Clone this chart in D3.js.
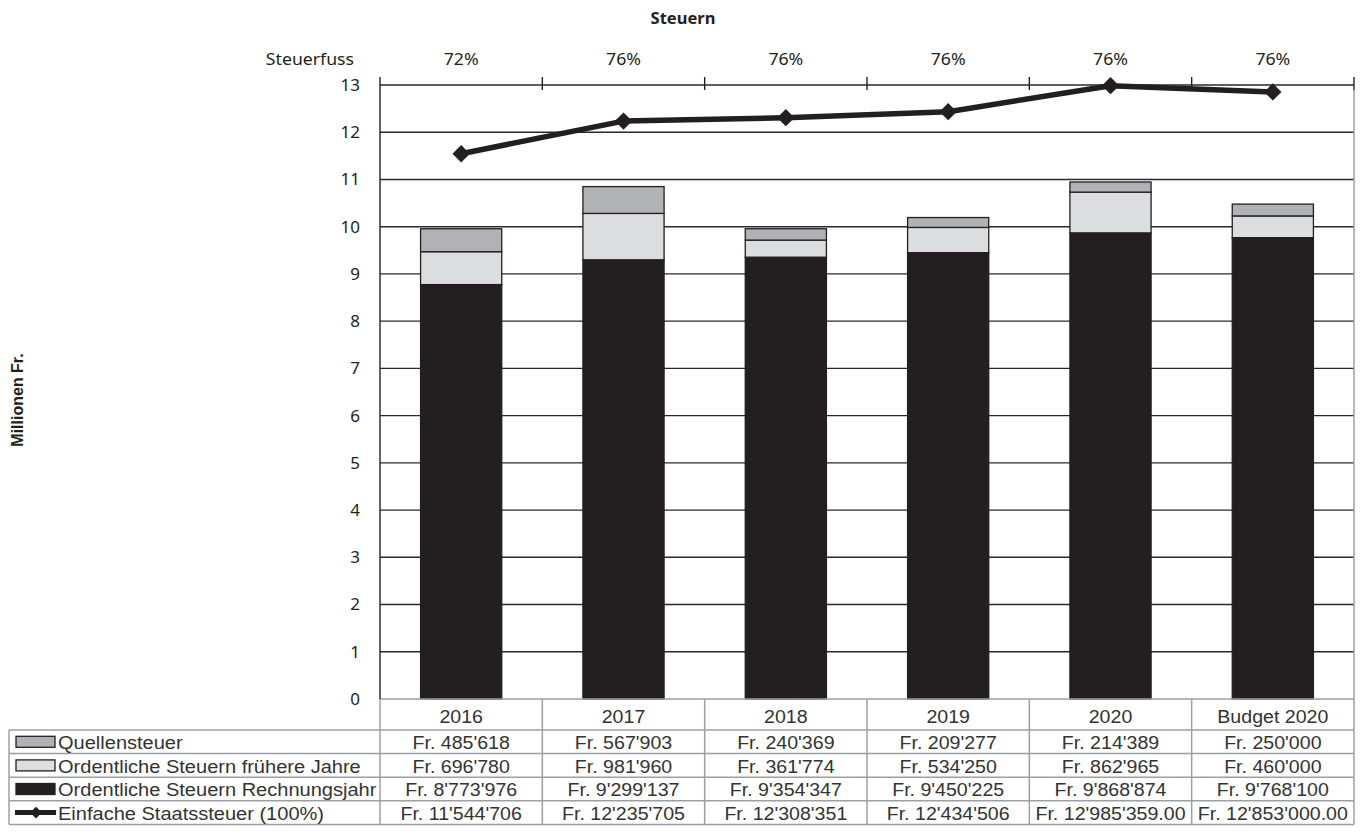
<!DOCTYPE html>
<html>
<head>
<meta charset="utf-8">
<script src="https://cdn.jsdelivr.net/npm/d3@7"></script>
<style>
  html, body { margin: 0; padding: 0; background: #fff; }
  svg { display: block; }
</style>
</head>
<body>
<svg id="chart" width="1367" height="839"></svg>
<script>
// Categories and values (Franken)
const years = ["2016", "2017", "2018", "2019", "2020", "Budget 2020"];
const steuerfuss = ["72%", "76%", "76%", "76%", "76%", "76%"];
const quellensteuer = [485618, 567903, 240369, 209277, 214389, 250000];
const fruehereJahre = [696780, 981960, 361774, 534250, 862965, 460000];
const rechnungsjahr = [8773976, 9299137, 9354347, 9450225, 9868874, 9768100];
const staatssteuer = [11544706, 12235705, 12308351, 12434506, 12985359, 12853000];
const staatssteuerDecimals = [0, 0, 0, 0, 2, 2];
const yTicks = [0, 1, 2, 3, 4, 5, 6, 7, 8, 9, 10, 11, 12, 13];

const seriesNames = {
  q: "Quellensteuer",
  f: "Ordentliche Steuern frühere Jahre",
  r: "Ordentliche Steuern Rechnungsjahr",
  s: "Einfache Staatssteuer (100%)"
};
const colors = { r: "#231f20", f: "#dcdddf", q: "#b1b2b5", s: "#231f20" };

const svg = d3.select("#chart");
const axisFont = "'Noto Sans', 'Open Sans', sans-serif";
const tableFont = "'Liberation Sans', Arial, sans-serif";
const ink = "#231f20";
const gridGrey = "#9d9fa2";
const tableStretch = 1.12;
const legendStretch = 1.145;

const plotLeft = 380, plotRight = 1354, plotTop = 85, plotBottom = 699;

const x = d3.scaleBand().domain(years).range([plotLeft, plotRight])
  .paddingInner(0.5).paddingOuter(0.25);
const y = d3.scaleLinear().domain([0, 13]).range([plotBottom, plotTop]);

const fr = d3.formatLocale({ decimal: ".", thousands: "'", grouping: [3], currency: ["Fr. ", ""] });
const fmt0 = fr.format("$,.0f");
const fmt2 = fr.format("$,.2f");

// places a text at (tx, ty), widened horizontally by sx
function placeText(sel, tx, ty, sx) {
  return sel.attr("x", 0).attr("y", 0)
    .attr("transform", (d, i) => {
      const px = typeof tx === "function" ? tx(d, i) : tx;
      const py = typeof ty === "function" ? ty(d, i) : ty;
      return `translate(${px},${py}) scale(${sx},1)`;
    });
}

// Title
svg.append("text").attr("x", 683).attr("y", 24)
  .attr("text-anchor", "middle").attr("font-family", axisFont)
  .attr("font-weight", "bold").attr("font-size", 16.5).attr("fill", ink)
  .text("Steuern");

// Y axis title
svg.append("text")
  .attr("transform", `translate(23, ${(plotTop + plotBottom) / 2 + 8}) rotate(-90)`)
  .attr("text-anchor", "middle").attr("font-family", tableFont)
  .attr("font-weight", "bold").attr("font-size", 16).attr("fill", ink)
  .text("Millionen Fr.");

// Horizontal gridlines
svg.append("g").selectAll("line").data(yTicks.filter(d => d > 0)).join("line")
  .attr("x1", plotLeft).attr("x2", plotRight)
  .attr("y1", d => y(d)).attr("y2", d => y(d))
  .attr("stroke", "#2b2829").attr("stroke-width", 1.4);

// Y axis labels
svg.append("g").selectAll("text").data(yTicks).join("text")
  .attr("x", 360).attr("y", d => y(d)).attr("dy", "0.35em")
  .attr("text-anchor", "end").attr("font-family", axisFont)
  .attr("font-size", 17).attr("fill", ink)
  .text(d => d);

// Top category axis carrying the Steuerfuss
const stepEdges = d3.range(years.length + 1).map(i => plotLeft + i * x.step());
svg.append("g").selectAll("line").data(stepEdges.slice(1)).join("line")
  .attr("x1", d => d).attr("x2", d => d)
  .attr("y1", plotTop - 8).attr("y2", plotTop + 5)
  .attr("stroke", ink).attr("stroke-width", 1.4);
placeText(svg.append("text"), 354, 59, 1.04).attr("dy", "0.35em")
  .attr("text-anchor", "end").attr("font-family", axisFont)
  .attr("font-size", 17).attr("fill", ink).text("Steuerfuss");
placeText(svg.append("g").selectAll("text").data(years).join("text"),
    d => x(d) + x.bandwidth() / 2, 59, 1.04).attr("dy", "0.35em")
  .attr("text-anchor", "middle").attr("font-family", axisFont)
  .attr("font-size", 17).attr("fill", ink)
  .text((d, i) => steuerfuss[i]);

// Stacked bars (millions)
const rows = years.map((yr, i) => ({
  year: yr,
  r: rechnungsjahr[i] / 1e6,
  f: fruehereJahre[i] / 1e6,
  q: quellensteuer[i] / 1e6
}));
const stack = d3.stack().keys(["r", "f", "q"])(rows);
svg.append("g").selectAll("g").data(stack).join("g")
  .attr("fill", d => colors[d.key])
  .selectAll("rect").data(d => d).join("rect")
  .attr("x", d => x(d.data.year)).attr("width", x.bandwidth())
  .attr("y", d => y(d[1])).attr("height", d => y(d[0]) - y(d[1]))
  .attr("stroke", ink).attr("stroke-width", 1.3);

// Plot frame: left axis, bottom axis, right edge
svg.append("line").attr("x1", plotRight).attr("x2", plotRight).attr("y1", plotTop + 5).attr("y2", plotBottom)
  .attr("stroke", gridGrey).attr("stroke-width", 1.5);
svg.append("line").attr("x1", plotLeft).attr("x2", plotRight).attr("y1", plotBottom).attr("y2", plotBottom)
  .attr("stroke", gridGrey).attr("stroke-width", 1.5);
svg.append("line").attr("x1", plotLeft).attr("x2", plotLeft).attr("y1", plotTop - 8).attr("y2", plotBottom)
  .attr("stroke", ink).attr("stroke-width", 1.4);

// Einfache Staatssteuer line with diamond markers
const linePts = years.map((yr, i) => [x(yr) + x.bandwidth() / 2, y(staatssteuer[i] / 1e6)]);
svg.append("path").attr("d", d3.line()(linePts))
  .attr("fill", "none").attr("stroke", colors.s).attr("stroke-width", 5.5)
  .attr("stroke-linejoin", "round");
svg.append("g").selectAll("path").data(linePts).join("path")
  .attr("transform", d => `translate(${d[0]},${d[1]}) rotate(45)`)
  .attr("d", d3.symbol().type(d3.symbolSquare).size(150))
  .attr("fill", colors.s);

// Data table
const headerTop = plotBottom, headerH = 31, rowH = 23.6;
const tableLeft = 9;
const tableRows = [
  { key: "q", cells: quellensteuer.map(v => fmt0(v)) },
  { key: "f", cells: fruehereJahre.map(v => fmt0(v)) },
  { key: "r", cells: rechnungsjahr.map(v => fmt0(v)) },
  { key: "s", cells: staatssteuer.map((v, i) => staatssteuerDecimals[i] ? fmt2(v) : fmt0(v)) }
];
const rowTop = i => headerTop + headerH + i * rowH;
const tableBottom = rowTop(tableRows.length);
const table = svg.append("g");

// grid lines of the table
table.append("g").selectAll("line").data(d3.range(tableRows.length)).join("line")
  .attr("x1", tableLeft).attr("x2", plotRight)
  .attr("y1", i => rowTop(i)).attr("y2", i => rowTop(i))
  .attr("stroke", gridGrey).attr("stroke-width", 1.5);
table.append("line").attr("x1", tableLeft).attr("x2", plotRight)
  .attr("y1", tableBottom).attr("y2", tableBottom)
  .attr("stroke", gridGrey).attr("stroke-width", 1.5);
table.append("g").selectAll("line").data(stepEdges).join("line")
  .attr("x1", d => d).attr("x2", d => d)
  .attr("y1", headerTop).attr("y2", tableBottom)
  .attr("stroke", gridGrey).attr("stroke-width", 1.5);
table.append("line").attr("x1", tableLeft).attr("x2", tableLeft)
  .attr("y1", rowTop(0)).attr("y2", tableBottom)
  .attr("stroke", gridGrey).attr("stroke-width", 1.5);

// header row
placeText(table.append("g").selectAll("text").data(years).join("text"),
    (d, i) => (stepEdges[i] + stepEdges[i + 1]) / 2, headerTop + headerH / 2 + 2, tableStretch)
  .attr("dy", "0.35em")
  .attr("text-anchor", "middle").attr("font-family", tableFont)
  .attr("font-size", 17.5).attr("fill", "#333")
  .text(d => d);

// value rows with legend keys
tableRows.forEach((row, ri) => {
  const cy = rowTop(ri) + rowH / 2;
  const g = table.append("g");
  if (row.key === "s") {
    g.append("line").attr("x1", 15).attr("x2", 56).attr("y1", cy).attr("y2", cy)
      .attr("stroke", ink).attr("stroke-width", 5);
    g.append("path").attr("transform", `translate(36,${cy}) rotate(45)`)
      .attr("d", d3.symbol().type(d3.symbolSquare).size(70)).attr("fill", ink);
  } else {
    g.append("rect").attr("x", 16).attr("y", cy - 5.5).attr("width", 39).attr("height", 11)
      .attr("fill", colors[row.key]).attr("stroke", ink).attr("stroke-width", 1.3);
  }
  placeText(g.append("text"), 58, cy + 1, legendStretch).attr("dy", "0.35em")
    .attr("font-family", tableFont).attr("font-size", 17.5).attr("fill", "#333")
    .text(seriesNames[row.key]);
  placeText(g.selectAll("text.v").data(row.cells).join("text").attr("class", "v"),
      (d, i) => (stepEdges[i] + stepEdges[i + 1]) / 2, cy + 1, tableStretch)
    .attr("dy", "0.35em")
    .attr("text-anchor", "middle").attr("font-family", tableFont)
    .attr("font-size", 17.5).attr("fill", "#333")
    .text(d => d);
});
</script>
</body>
</html>
